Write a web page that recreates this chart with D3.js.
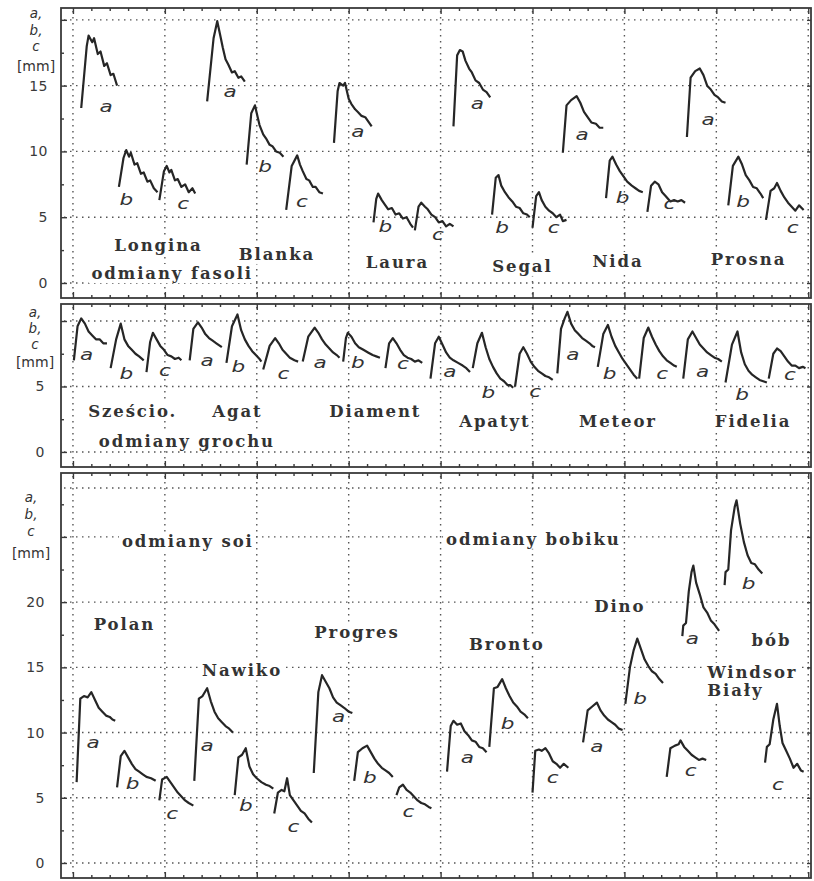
<!DOCTYPE html>
<html>
<head>
<meta charset="utf-8">
<script src="https://cdn.jsdelivr.net/npm/d3@7/dist/d3.min.js"></script>
<style>
  body { margin: 0; background: #fff; }
  svg { display: block; }
</style>
</head>
<body>
<div id="chart"></div>
<script>
// x runs in grid units (0..8), y in mm
const xMajor = [0, 1, 2, 3, 4, 5, 6, 7, 8];

// ---- odmiany fasoli ----
const beanTicks = [0, 5, 10, 15];
const beanGrid = [0, 5, 10, 15, 20];
const beanCurves = [
  { k: 'a', at: [0.36, 13.0], pts: [[0.09,13.3],[0.15,18.0],[0.17,18.8],[0.21,18.3],[0.23,18.6],[0.27,17.4],[0.30,17.6],[0.34,16.5],[0.37,16.7],[0.41,15.8],[0.44,15.9],[0.48,15.0]] },
  { k: 'b', at: [0.58, 5.9], pts: [[0.50,7.3],[0.55,9.5],[0.58,10.1],[0.61,9.6],[0.63,9.9],[0.67,9.0],[0.70,9.1],[0.74,8.3],[0.77,8.4],[0.81,7.7],[0.84,7.8],[0.88,7.2],[0.92,6.9]] },
  { k: 'c', at: [1.20, 5.6], pts: [[0.94,6.3],[0.99,8.5],[1.02,8.9],[1.05,8.4],[1.07,8.6],[1.11,7.8],[1.14,7.9],[1.18,7.3],[1.22,7.5],[1.26,6.9],[1.30,7.2],[1.33,6.8]] },
  { k: 'a', at: [1.71, 14.1], pts: [[1.46,13.8],[1.53,18.6],[1.57,19.9],[1.60,18.9],[1.63,17.9],[1.66,17.0],[1.69,16.6],[1.73,16.0],[1.76,16.1],[1.80,15.6],[1.83,15.7],[1.87,15.3]] },
  { k: 'b', at: [2.09, 8.45], pts: [[1.89,9.0],[1.94,12.9],[1.98,13.5],[2.01,12.6],[2.03,12.0],[2.07,11.3],[2.10,11.0],[2.14,10.5],[2.17,10.4],[2.21,10.0],[2.25,9.9],[2.29,9.6]] },
  { k: 'c', at: [2.49, 5.8], pts: [[2.32,5.55],[2.38,8.9],[2.44,9.7],[2.47,9.0],[2.50,8.5],[2.54,7.9],[2.57,7.8],[2.61,7.3],[2.64,7.3],[2.68,6.9],[2.72,6.8]] },
  { k: 'a', at: [3.10, 11.1], pts: [[2.84,10.65],[2.88,14.6],[2.90,15.2],[2.94,15.0],[2.96,15.2],[3.00,14.0],[3.03,13.6],[3.07,13.2],[3.10,13.0],[3.14,12.7],[3.18,12.6],[3.22,12.2],[3.25,11.9]] },
  { k: 'b', at: [3.40, 3.9], pts: [[3.27,4.6],[3.30,6.4],[3.32,6.8],[3.36,6.3],[3.39,6.0],[3.43,5.6],[3.47,5.7],[3.51,5.2],[3.55,5.3],[3.59,4.9],[3.63,5.0],[3.67,4.5],[3.70,4.2]] },
  { k: 'c', at: [3.97, 3.3], pts: [[3.72,4.0],[3.76,5.8],[3.79,6.1],[3.83,5.8],[3.86,5.6],[3.90,5.2],[3.94,5.0],[3.98,4.6],[4.02,4.7],[4.06,4.3],[4.10,4.5],[4.14,4.3]] },
  { k: 'a', at: [4.40, 13.2], pts: [[4.14,11.9],[4.18,17.3],[4.21,17.7],[4.24,17.6],[4.27,16.9],[4.31,16.3],[4.34,16.0],[4.38,15.4],[4.42,15.2],[4.46,14.7],[4.50,14.5],[4.54,14.1]] },
  { k: 'b', at: [4.67, 3.8], pts: [[4.56,5.2],[4.60,8.0],[4.63,8.2],[4.66,7.4],[4.70,6.9],[4.74,6.5],[4.78,6.2],[4.82,5.8],[4.86,5.7],[4.90,5.3],[4.94,5.2],[4.97,5.0]] },
  { k: 'c', at: [5.23, 3.8], pts: [[5.00,4.2],[5.04,6.6],[5.07,6.9],[5.10,6.3],[5.14,5.8],[5.18,5.5],[5.22,5.3],[5.26,5.0],[5.30,5.2],[5.33,4.7],[5.37,4.8]] },
  { k: 'a', at: [5.54, 10.9], pts: [[5.33,9.9],[5.37,13.5],[5.42,13.9],[5.48,14.2],[5.52,13.7],[5.56,13.0],[5.60,12.6],[5.64,12.2],[5.69,12.1],[5.73,11.8],[5.77,11.8]] },
  { k: 'b', at: [5.98, 6.1], pts: [[5.80,6.45],[5.84,9.3],[5.87,9.6],[5.91,9.0],[5.95,8.5],[5.99,8.1],[6.03,7.7],[6.08,7.4],[6.12,7.2],[6.16,7.0],[6.20,6.9]] },
  { k: 'c', at: [6.49, 5.6], pts: [[6.25,5.4],[6.29,7.4],[6.33,7.7],[6.37,7.5],[6.41,6.9],[6.45,6.6],[6.50,6.2],[6.54,6.3],[6.58,6.2],[6.62,6.3],[6.66,6.1]] },
  { k: 'a', at: [6.91, 12.0], pts: [[6.68,11.1],[6.72,15.6],[6.77,16.1],[6.82,16.3],[6.86,15.8],[6.90,15.0],[6.94,14.7],[6.98,14.3],[7.02,14.1],[7.06,13.8],[7.10,13.7]] },
  { k: 'b', at: [7.29, 5.8], pts: [[7.13,5.9],[7.18,8.9],[7.24,9.6],[7.28,9.0],[7.32,8.2],[7.36,7.8],[7.40,7.3],[7.44,7.2],[7.48,6.8],[7.51,6.45]] },
  { k: 'c', at: [7.83, 3.8], pts: [[7.54,4.8],[7.59,7.0],[7.63,7.2],[7.66,7.6],[7.70,7.0],[7.74,6.5],[7.78,6.1],[7.82,5.8],[7.86,5.5],[7.90,5.9],[7.95,5.55]] }
];
const beanNames = [
  { text: 'Longina', at: [0.93, 2.4] },
  { text: 'odmiany fasoli', at: [1.08, 0.3] },
  { text: 'Blanka', at: [2.22, 1.75] },
  { text: 'Laura', at: [3.53, 1.14] },
  { text: 'Segal', at: [4.89, 0.84] },
  { text: 'Nida', at: [5.93, 1.22] },
  { text: 'Prosna', at: [7.35, 1.37] }
];

// ---- odmiany grochu ----
const peaTicks = [0, 5];
const peaGrid = [0, 5, 10];
const peaCurves = [
  { k: 'a', at: [0.15, 7.0], pts: [[0.01,7.0],[0.05,9.6],[0.09,10.2],[0.13,9.8],[0.17,9.2],[0.21,8.9],[0.25,8.6],[0.29,8.6],[0.33,8.3],[0.37,8.3]] },
  { k: 'b', at: [0.58, 5.6], pts: [[0.41,6.4],[0.47,8.6],[0.52,9.8],[0.56,8.6],[0.60,8.1],[0.64,7.8],[0.68,7.5],[0.72,7.3],[0.77,7.0]] },
  { k: 'c', at: [1.00, 5.8], pts: [[0.80,6.1],[0.84,8.4],[0.87,9.1],[0.91,8.6],[0.95,8.1],[0.99,7.8],[1.03,7.4],[1.07,7.3],[1.11,7.1],[1.15,7.2],[1.18,7.0]] },
  { k: 'a', at: [1.46, 6.6], pts: [[1.27,7.0],[1.31,9.4],[1.36,9.9],[1.40,9.5],[1.44,9.0],[1.48,8.7],[1.52,8.5],[1.56,8.3],[1.60,8.1],[1.62,8.0]] },
  { k: 'b', at: [1.80, 6.1], pts: [[1.67,6.8],[1.73,9.6],[1.79,10.5],[1.83,9.3],[1.87,8.6],[1.91,8.1],[1.95,7.7],[1.99,7.4],[2.03,7.1],[2.05,6.9]] },
  { k: 'c', at: [2.29, 5.6], pts: [[2.07,6.3],[2.14,8.1],[2.20,8.7],[2.24,8.3],[2.28,7.8],[2.32,7.5],[2.36,7.2],[2.41,7.0],[2.45,6.9]] },
  { k: 'a', at: [2.69, 6.4], pts: [[2.50,6.9],[2.56,8.8],[2.63,9.5],[2.67,9.1],[2.71,8.6],[2.75,8.2],[2.79,7.9],[2.83,7.6],[2.87,7.4],[2.90,7.2]] },
  { k: 'b', at: [3.10, 6.4], pts: [[2.94,6.9],[2.97,8.7],[2.99,9.1],[3.03,8.8],[3.07,8.3],[3.11,8.0],[3.16,7.8],[3.21,7.6],[3.26,7.4],[3.30,7.3],[3.34,7.2]] },
  { k: 'c', at: [3.59, 6.3], pts: [[3.40,6.4],[3.44,8.3],[3.48,8.7],[3.52,8.3],[3.56,7.8],[3.60,7.4],[3.64,7.2],[3.68,7.1],[3.72,6.9],[3.76,7.0],[3.80,6.8]] },
  { k: 'a', at: [4.10, 5.7], pts: [[3.89,5.6],[3.94,8.3],[3.98,8.8],[4.02,8.2],[4.06,7.6],[4.10,7.2],[4.14,7.0],[4.19,6.8],[4.24,6.6],[4.28,6.4],[4.32,6.1]] },
  { k: 'b', at: [4.52, 4.1], pts: [[4.35,6.4],[4.40,8.3],[4.45,9.1],[4.49,8.0],[4.53,7.1],[4.57,6.5],[4.61,6.0],[4.65,5.6],[4.69,5.4],[4.73,5.1],[4.76,5.1],[4.79,4.9]] },
  { k: 'c', at: [5.03, 4.2], pts: [[4.81,5.0],[4.86,7.5],[4.90,8.0],[4.94,7.5],[4.98,6.9],[5.02,6.5],[5.06,6.2],[5.10,6.0],[5.14,5.8],[5.18,5.7],[5.22,5.5]] },
  { k: 'a', at: [5.44, 7.0], pts: [[5.27,6.0],[5.31,9.4],[5.35,10.2],[5.38,10.7],[5.42,9.8],[5.46,9.3],[5.50,9.0],[5.54,8.7],[5.58,8.5],[5.62,8.3],[5.65,8.1],[5.68,8.0]] },
  { k: 'b', at: [5.84, 5.6], pts: [[5.71,6.5],[5.77,9.0],[5.82,9.7],[5.86,8.8],[5.90,8.1],[5.94,7.6],[5.98,7.1],[6.02,6.7],[6.06,6.3],[6.10,5.9],[6.14,5.6]] },
  { k: 'c', at: [6.41, 5.6], pts: [[6.16,5.6],[6.21,8.7],[6.26,9.5],[6.30,8.8],[6.34,8.2],[6.38,7.7],[6.42,7.3],[6.46,7.0],[6.50,6.8],[6.54,6.6],[6.57,6.5]] },
  { k: 'a', at: [6.85, 5.7], pts: [[6.64,5.6],[6.69,8.6],[6.74,9.2],[6.78,8.7],[6.82,8.2],[6.86,7.9],[6.90,7.6],[6.94,7.4],[6.98,7.2],[7.02,7.1],[7.06,6.9]] },
  { k: 'b', at: [7.28, 4.0], pts: [[7.10,5.3],[7.17,8.2],[7.23,9.2],[7.27,7.6],[7.31,6.7],[7.35,6.2],[7.39,5.9],[7.43,5.7],[7.47,5.5],[7.51,5.4],[7.55,5.3]] },
  { k: 'c', at: [7.80, 5.5], pts: [[7.57,5.6],[7.62,7.5],[7.66,7.9],[7.70,7.7],[7.74,7.3],[7.78,6.9],[7.82,6.6],[7.86,6.6],[7.90,6.4],[7.94,6.5],[7.97,6.4]] }
];
const peaNames = [
  { text: 'Sześcio.', at: [0.65, 2.67] },
  { text: 'Agat', at: [1.79, 2.67] },
  { text: 'Diament', at: [3.29, 2.67] },
  { text: 'Apatyt', at: [4.59, 1.9] },
  { text: 'Meteor', at: [5.93, 1.9] },
  { text: 'Fidelia', at: [7.40, 1.9] },
  { text: 'odmiany grochu', at: [1.24, 0.38] }
];

// ---- odmiany soi / bobiku / bób ----
const soyTicks = [0, 5, 10, 15, 20];
const soyGrid = [0, 5, 10, 15, 20, 25, 28.75];
const soyCurves = [
  { k: 'a', at: [0.22, 8.8], pts: [[0.04,6.2],[0.08,12.6],[0.12,12.8],[0.16,12.7],[0.20,13.1],[0.24,12.5],[0.28,11.9],[0.32,11.6],[0.36,11.3],[0.40,11.2],[0.43,11.0],[0.46,10.9]] },
  { k: 'b', at: [0.65, 5.7], pts: [[0.48,5.8],[0.52,8.2],[0.56,8.6],[0.60,8.1],[0.64,7.6],[0.68,7.2],[0.72,7.0],[0.76,6.8],[0.80,6.6],[0.85,6.5],[0.90,6.3]] },
  { k: 'c', at: [1.08, 3.4], pts: [[0.94,4.8],[0.97,6.4],[1.02,6.6],[1.06,6.2],[1.10,5.8],[1.14,5.4],[1.18,5.1],[1.22,4.8],[1.26,4.6],[1.31,4.4]] },
  { k: 'a', at: [1.46, 8.6], pts: [[1.32,6.3],[1.37,12.6],[1.41,12.8],[1.46,13.4],[1.50,12.4],[1.54,11.6],[1.58,11.1],[1.62,10.8],[1.66,10.5],[1.70,10.3],[1.74,10.0]] },
  { k: 'b', at: [1.88, 4.0], pts: [[1.76,5.2],[1.80,8.1],[1.84,8.3],[1.88,8.8],[1.92,7.4],[1.96,6.8],[2.00,6.5],[2.05,6.2],[2.10,6.0],[2.14,5.9],[2.18,5.7]] },
  { k: 'c', at: [2.40, 2.4], pts: [[2.19,3.8],[2.23,5.4],[2.27,5.6],[2.30,5.5],[2.33,6.5],[2.36,5.2],[2.40,4.8],[2.44,4.4],[2.48,4.0],[2.52,3.8],[2.56,3.4],[2.60,3.1]] },
  { k: 'a', at: [2.89, 10.8], pts: [[2.62,6.9],[2.67,13.1],[2.71,14.4],[2.75,13.9],[2.79,13.4],[2.83,12.7],[2.87,12.3],[2.91,12.1],[2.95,11.9],[3.00,11.6],[3.04,11.5]] },
  { k: 'b', at: [3.23, 6.1], pts: [[3.06,6.3],[3.10,8.5],[3.15,8.8],[3.20,9.0],[3.24,8.5],[3.28,8.0],[3.32,7.6],[3.36,7.3],[3.40,7.1],[3.44,6.9],[3.48,6.6]] },
  { k: 'c', at: [3.65, 3.5], pts: [[3.52,5.2],[3.55,5.8],[3.59,6.0],[3.63,5.6],[3.67,5.4],[3.71,5.1],[3.75,4.8],[3.79,4.6],[3.83,4.5],[3.87,4.3],[3.90,4.2]] },
  { k: 'a', at: [4.29, 7.7], pts: [[4.07,7.0],[4.11,10.5],[4.14,10.9],[4.18,10.6],[4.22,10.7],[4.26,10.1],[4.30,9.8],[4.34,9.4],[4.38,9.3],[4.42,8.9],[4.46,8.8],[4.50,8.5]] },
  { k: 'b', at: [4.73, 10.3], pts: [[4.53,8.9],[4.58,13.4],[4.62,13.5],[4.67,14.1],[4.71,13.4],[4.75,12.8],[4.79,12.3],[4.83,12.0],[4.87,11.6],[4.91,11.4],[4.95,11.1]] },
  { k: 'c', at: [5.22, 6.1], pts: [[5.00,5.4],[5.03,8.6],[5.07,8.7],[5.10,8.6],[5.14,8.8],[5.18,8.4],[5.22,7.8],[5.26,7.6],[5.30,7.3],[5.34,7.6],[5.39,7.3]] },
  { k: 'a', at: [5.70, 8.5], pts: [[5.55,9.25],[5.60,11.7],[5.65,12.0],[5.70,12.3],[5.74,11.7],[5.78,11.3],[5.82,11.0],[5.86,10.8],[5.90,10.6],[5.94,10.3],[5.98,10.2]] },
  { k: 'b', at: [6.17, 12.2], pts: [[6.01,12.2],[6.06,15.0],[6.10,16.3],[6.14,17.2],[6.18,16.4],[6.22,15.6],[6.26,15.1],[6.30,14.7],[6.34,14.5],[6.38,14.1],[6.42,13.8]] },
  { k: 'c', at: [6.72, 6.7], pts: [[6.46,6.6],[6.50,8.8],[6.55,9.0],[6.59,9.1],[6.61,9.4],[6.65,8.9],[6.69,8.6],[6.73,8.3],[6.77,8.1],[6.81,7.9],[6.85,8.0],[6.89,7.9]] },
  { k: 'a', at: [6.74, 16.8], pts: [[6.63,17.4],[6.64,18.2],[6.67,18.4],[6.70,20.8],[6.73,22.3],[6.75,22.8],[6.78,21.5],[6.82,20.6],[6.86,19.6],[6.90,19.2],[6.94,18.6],[6.98,18.3],[7.03,17.8]] },
  { k: 'b', at: [7.35, 21.0], pts: [[7.09,21.3],[7.10,22.3],[7.13,22.5],[7.16,25.5],[7.20,27.3],[7.22,27.8],[7.26,26.0],[7.30,24.6],[7.34,23.6],[7.38,23.0],[7.42,22.9],[7.46,22.5],[7.50,22.2]] },
  { k: 'c', at: [7.67, 5.6], pts: [[7.53,7.7],[7.55,8.9],[7.58,9.1],[7.62,11.0],[7.66,12.2],[7.69,10.5],[7.72,9.2],[7.76,8.6],[7.80,8.0],[7.84,7.3],[7.88,7.6],[7.92,7.1],[7.95,7.0]] }
];
const soyNames = [
  { text: 'odmiany soi', at: [1.25, 24.2] },
  { text: 'Polan', at: [0.56, 17.9] },
  { text: 'Nawiko', at: [1.84, 14.3] },
  { text: 'Progres', at: [3.09, 17.25] },
  { text: 'odmiany bobiku', at: [5.01, 24.4] },
  { text: 'Bronto', at: [4.72, 16.3] },
  { text: 'Dino', at: [5.95, 19.25] },
  { text: 'bób', at: [7.60, 16.6] },
  { text: 'Windsor', at: [6.90, 14.2], start: true },
  { text: 'Biały', at: [6.90, 12.8], start: true }
];

// ---- layout ----
const W = 814, H = 881;
const ink = '#262626';
const x = d3.scaleLinear().domain([-0.13, 8.03]).range([61, 811]);

const panels = [
  { curves: beanCurves, names: beanNames, ticks: beanTicks, grid: beanGrid,
    top: 8, bottom: 298, domain: [-1.14, 20.9], pad: 13, unitX: 36, unitY: [18, 35, 51, 71] },
  { curves: peaCurves, names: peaNames, ticks: peaTicks, grid: peaGrid,
    top: 304, bottom: 467, domain: [-1.15, 11.3], pad: 16, unitX: 35, unitY: [317, 333, 349, 367] },
  { curves: soyCurves, names: soyNames, ticks: soyTicks, grid: soyGrid,
    top: 473, bottom: 878, domain: [-1.15, 29.9], pad: 16, unitX: 31, unitY: [502, 519, 536, 558] }
];

const svg = d3.select('#chart').append('svg')
  .attr('width', W).attr('height', H)
  .style('background', '#fff');

const xMinor = d3.range(0, 8.001, 0.2).filter(v => Math.abs(v - Math.round(v)) > 0.01);

panels.forEach(p => {
  const y = d3.scaleLinear().domain(p.domain).range([p.bottom, p.top]);
  const g = svg.append('g');

  // *** dotted grid *** //
  const grid = g.append('g')
    .attr('stroke', '#555').attr('stroke-width', 1.4)
    .attr('stroke-dasharray', '1.5,4.5').attr('fill', 'none');
  grid.selectAll('line.h').data(p.grid).join('line')
    .attr('class', 'h')
    .attr('x1', x.range()[0] + 3).attr('x2', x.range()[1] - 2)
    .attr('y1', d => y(d)).attr('y2', d => y(d));
  grid.selectAll('line.v').data(xMajor).join('line')
    .attr('class', 'v')
    .attr('x1', d => x(d)).attr('x2', d => x(d))
    .attr('y1', p.top + 3).attr('y2', p.bottom - 2);

  // *** names with paper-white boxes *** //
  const nameG = g.append('g');
  p.names.forEach(n => {
    const t = nameG.append('text')
      .attr('x', x(n.at[0])).attr('y', y(n.at[1]))
      .attr('text-anchor', n.start ? 'start' : 'middle')
      .attr('font-family', 'DejaVu Serif')
      .attr('font-weight', 'bold')
      .attr('font-size', 16.5)
      .attr('letter-spacing', 1.9)
      .attr('fill', '#333')
      .text(n.text);
    const bb = t.node().getBBox();
    nameG.insert('rect', () => t.node())
      .attr('x', bb.x - 3).attr('y', bb.y)
      .attr('width', bb.width + 4).attr('height', bb.height)
      .attr('fill', '#fff');
  });

  // *** curves *** //
  const line = d3.line().x(d => x(d[0])).y(d => y(d[1]));
  g.selectAll('path.curve').data(p.curves).join('path')
    .attr('class', 'curve')
    .attr('d', d => line(d.pts))
    .attr('fill', 'none')
    .attr('stroke', ink)
    .attr('stroke-width', 2.2)
    .attr('stroke-linejoin', 'round');

  g.selectAll('text.k').data(p.curves).join('text')
    .attr('class', 'k')
    .attr('transform', d => `translate(${x(d.at[0])},${y(d.at[1])}) scale(1.35,1)`)
    .attr('text-anchor', 'middle')
    .attr('font-family', 'DejaVu Sans')
    .attr('font-style', 'italic')
    .attr('font-size', 16)
    .attr('fill', '#333')
    .text(d => d.k);

  // *** frame and ticks *** //
  g.append('rect')
    .attr('x', x.range()[0]).attr('y', p.top)
    .attr('width', x.range()[1] - x.range()[0]).attr('height', p.bottom - p.top)
    .attr('fill', 'none').attr('stroke', '#3a3a3a').attr('stroke-width', 1.8);

  const axG = g.append('g').attr('color', '#3a3a3a');
  axG.append('g').attr('transform', `translate(0,${p.top})`)
    .call(d3.axisBottom(x).tickValues(xMajor).tickSize(6).tickFormat(''));
  axG.append('g').attr('transform', `translate(0,${p.top})`)
    .call(d3.axisBottom(x).tickValues(xMinor).tickSize(3).tickFormat(''));
  axG.append('g').attr('transform', `translate(0,${p.bottom})`)
    .call(d3.axisTop(x).tickValues(xMajor).tickSize(6).tickFormat(''));
  axG.append('g').attr('transform', `translate(0,${p.bottom})`)
    .call(d3.axisTop(x).tickValues(xMinor).tickSize(3).tickFormat(''));

  const yMinor = d3.range(0, p.domain[1], 2.5).filter(v => v % 5 !== 0);
  const yMajor = d3.range(0, p.domain[1], 5);
  axG.append('g').attr('transform', `translate(${x.range()[0]},0)`)
    .call(d3.axisLeft(y).tickValues(yMajor).tickSize(-6).tickFormat(''));
  axG.append('g').attr('transform', `translate(${x.range()[0]},0)`)
    .call(d3.axisLeft(y).tickValues(yMinor).tickSize(-3).tickFormat(''));
  axG.append('g').attr('transform', `translate(${x.range()[1]},0)`)
    .call(d3.axisRight(y).tickValues(yMajor).tickSize(-4).tickFormat(''));

  const lab = g.append('g').attr('transform', `translate(${x.range()[0]},0)`)
    .call(d3.axisLeft(y).tickValues(p.ticks).tickSize(0).tickPadding(p.pad).tickFormat(d3.format('d')));
  lab.selectAll('text')
    .attr('font-family', 'DejaVu Sans')
    .attr('font-size', 14)
    .attr('letter-spacing', 0.5)
    .attr('fill', '#3a3a3a');
  axG.selectAll('.domain').remove();
  lab.select('.domain').remove();
  axG.selectAll('line').attr('stroke-width', 1.4);

  // *** unit label *** //
  const unit = g.append('g').attr('fill', '#333').attr('text-anchor', 'middle');
  ['a,', 'b,', 'c'].forEach((s, i) => {
    unit.append('text')
      .attr('x', p.unitX).attr('y', p.unitY[i])
      .attr('font-family', 'DejaVu Sans').attr('font-style', 'italic')
      .attr('font-size', 13.5).text(s);
  });
  unit.append('text')
    .attr('x', p.unitX).attr('y', p.unitY[3])
    .attr('font-family', 'DejaVu Sans').attr('font-size', 14).text('[mm]');
});
</script>
</body>
</html>
